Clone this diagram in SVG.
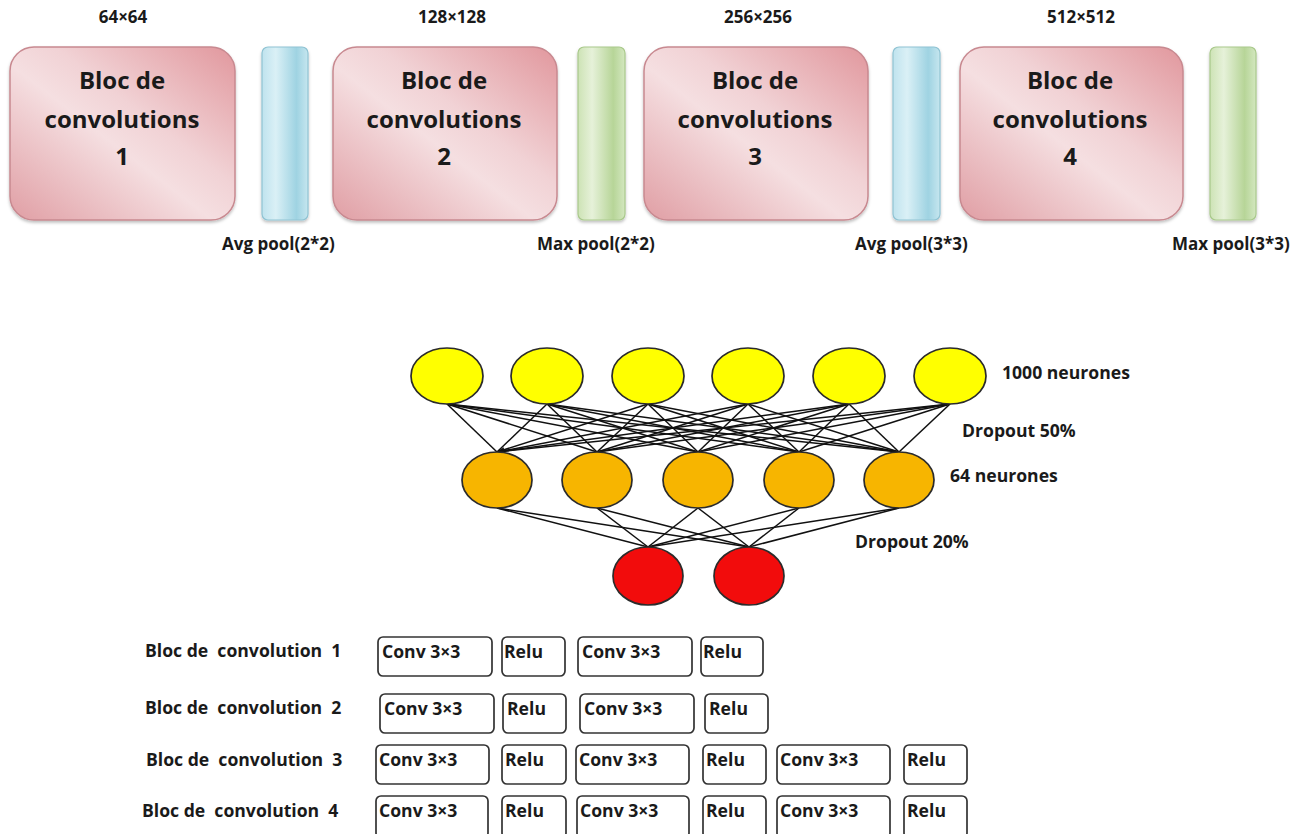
<svg xmlns="http://www.w3.org/2000/svg" width="1316" height="834" viewBox="0 0 1316 834">
  <defs>
    <style>
      .t { font-family: "Open Sans", "DejaVu Sans", sans-serif; font-weight: 700; fill: #1a1a1a; }
      .big { font-size: 24px; text-anchor: middle; }
      .sm { font-size: 17px; }
      .md { font-size: 17.6px; }
      .mid { text-anchor: middle; }
      .pre { white-space: pre; }
      .block { stroke: #c88990; stroke-width: 1.5; fill: url(#pink); }
      .poolA { stroke: #8fc3d3; stroke-width: 1.2; fill: url(#blue); }
      .poolM { stroke: #a9c98b; stroke-width: 1.2; fill: url(#green); }
      .yel { fill: #ffff00; stroke: #2b2b2b; stroke-width: 1.7; }
      .org { fill: #f7b500; stroke: #2b2b2b; stroke-width: 1.7; }
      .red { fill: #f20c0c; stroke: #2b2b2b; stroke-width: 1.7; }
      .op { fill: #ffffff; stroke: #333333; stroke-width: 1.7; }
      #links line { stroke: #111111; stroke-width: 1.5; }
    </style>
    <linearGradient id="pink" x1="0" y1="1" x2="1" y2="0">
      <stop offset="0" stop-color="#e09ea4"/>
      <stop offset="0.45" stop-color="#f5dfe1"/>
      <stop offset="0.6" stop-color="#f1d2d5"/>
      <stop offset="1" stop-color="#e1979d"/>
    </linearGradient>
    <linearGradient id="blue" x1="0" y1="0" x2="1" y2="0">
      <stop offset="0" stop-color="#bfe3ee"/>
      <stop offset="0.3" stop-color="#daf0f6"/>
      <stop offset="0.75" stop-color="#9fd3e2"/>
      <stop offset="1" stop-color="#c6e6ef"/>
    </linearGradient>
    <linearGradient id="green" x1="0" y1="0" x2="1" y2="0">
      <stop offset="0" stop-color="#cde3b5"/>
      <stop offset="0.3" stop-color="#e6f1d9"/>
      <stop offset="0.75" stop-color="#b7d598"/>
      <stop offset="1" stop-color="#d3e7bf"/>
    </linearGradient>
    <filter id="shadow" x="-10%" y="-10%" width="120%" height="125%">
      <feDropShadow dx="0" dy="2" stdDeviation="1.5" flood-color="#000000" flood-opacity="0.25"/>
    </filter>
    <marker id="arrow" viewBox="0 0 10 10" refX="9" refY="5" markerWidth="8" markerHeight="8" orient="auto" markerUnits="userSpaceOnUse">
      <path d="M0,0 L10,5 L0,10 z" fill="#111111"/>
    </marker>
  </defs>

  <rect width="1316" height="834" fill="#ffffff"/>

  <!-- feature sizes -->
  <text class="t sm mid" x="123" y="23">64×64</text>
  <text class="t sm mid" x="452" y="23">128×128</text>
  <text class="t sm mid" x="758" y="23">256×256</text>
  <text class="t sm mid" x="1081" y="23">512×512</text>

  <!-- convolution blocks -->
  <g id="bloc1">
    <rect class="block" x="10" y="47" width="225" height="173" rx="24" filter="url(#shadow)"/>
    <text class="t big" x="122" y="89">Bloc de</text>
    <text class="t big" x="122" y="128">convolutions</text>
    <text class="t big" x="122" y="165">1</text>
  </g>
  <g id="pool1">
    <rect class="poolA" x="262" y="47" width="46" height="173" rx="6" filter="url(#shadow)"/>
    <text class="t sm" x="222" y="250">Avg pool(2*2)</text>
  </g>
  <g id="bloc2">
    <rect class="block" x="333" y="47" width="224" height="173" rx="24" filter="url(#shadow)"/>
    <text class="t big" x="444" y="89">Bloc de</text>
    <text class="t big" x="444" y="128">convolutions</text>
    <text class="t big" x="444" y="165">2</text>
  </g>
  <g id="pool2">
    <rect class="poolM" x="578" y="47" width="47" height="173" rx="6" filter="url(#shadow)"/>
    <text class="t sm" x="537" y="250">Max pool(2*2)</text>
  </g>
  <g id="bloc3">
    <rect class="block" x="644" y="47" width="224" height="173" rx="24" filter="url(#shadow)"/>
    <text class="t big" x="755" y="89">Bloc de</text>
    <text class="t big" x="755" y="128">convolutions</text>
    <text class="t big" x="755" y="165">3</text>
  </g>
  <g id="pool3">
    <rect class="poolA" x="893" y="47" width="47" height="173" rx="6" filter="url(#shadow)"/>
    <text class="t sm" x="855" y="250">Avg pool(3*3)</text>
  </g>
  <g id="bloc4">
    <rect class="block" x="960" y="47" width="223" height="173" rx="24" filter="url(#shadow)"/>
    <text class="t big" x="1070" y="89">Bloc de</text>
    <text class="t big" x="1070" y="128">convolutions</text>
    <text class="t big" x="1070" y="165">4</text>
  </g>
  <g id="pool4">
    <rect class="poolM" x="1210" y="47" width="46" height="173" rx="6" filter="url(#shadow)"/>
    <text class="t sm" x="1172" y="250">Max pool(3*3)</text>
  </g>

  <!-- dense layers: connectors -->
  <g id="links">
    <!-- yellow layer to orange layer -->
    <line x1="447" y1="404" x2="497" y2="452"/><line x1="447" y1="404" x2="597" y2="452"/><line x1="447" y1="404" x2="698" y2="452"/><line x1="447" y1="404" x2="799" y2="452"/><line x1="447" y1="404" x2="899" y2="452"/>
    <line x1="547" y1="404" x2="497" y2="452"/><line x1="547" y1="404" x2="597" y2="452"/><line x1="547" y1="404" x2="698" y2="452"/><line x1="547" y1="404" x2="799" y2="452"/><line x1="547" y1="404" x2="899" y2="452"/>
    <line x1="648" y1="404" x2="497" y2="452"/><line x1="648" y1="404" x2="597" y2="452"/><line x1="648" y1="404" x2="698" y2="452"/><line x1="648" y1="404" x2="799" y2="452"/><line x1="648" y1="404" x2="899" y2="452"/>
    <line x1="748" y1="404" x2="497" y2="452"/><line x1="748" y1="404" x2="597" y2="452"/><line x1="748" y1="404" x2="698" y2="452"/><line x1="748" y1="404" x2="799" y2="452"/><line x1="748" y1="404" x2="899" y2="452"/>
    <line x1="849" y1="404" x2="497" y2="452"/><line x1="849" y1="404" x2="597" y2="452"/><line x1="849" y1="404" x2="698" y2="452"/><line x1="849" y1="404" x2="799" y2="452"/><line x1="849" y1="404" x2="899" y2="452"/>
    <line x1="950" y1="404" x2="497" y2="452" marker-end="url(#arrow)"/><line x1="950" y1="404" x2="597" y2="452"/><line x1="950" y1="404" x2="698" y2="452"/><line x1="950" y1="404" x2="799" y2="452"/><line x1="950" y1="404" x2="899" y2="452"/>
    <!-- orange layer to output layer -->
    <line x1="497" y1="508" x2="648" y2="547"/><line x1="497" y1="508" x2="749" y2="547"/>
    <line x1="597" y1="508" x2="648" y2="547"/><line x1="597" y1="508" x2="749" y2="547"/>
    <line x1="698" y1="508" x2="648" y2="547"/><line x1="698" y1="508" x2="749" y2="547"/>
    <line x1="799" y1="508" x2="648" y2="547"/><line x1="799" y1="508" x2="749" y2="547"/>
    <line x1="899" y1="508" x2="648" y2="547"/><line x1="899" y1="508" x2="749" y2="547"/>
  </g>

  <!-- dense layers: neurons -->
  <g id="dense1000">
    <ellipse class="yel" cx="447" cy="376" rx="36" ry="28"/>
    <ellipse class="yel" cx="547" cy="376" rx="36" ry="28"/>
    <ellipse class="yel" cx="648" cy="376" rx="36" ry="28"/>
    <ellipse class="yel" cx="748" cy="376" rx="36" ry="28"/>
    <ellipse class="yel" cx="849" cy="376" rx="36" ry="28"/>
    <ellipse class="yel" cx="950" cy="376" rx="36" ry="28"/>
    <text class="t md" x="1002" y="379">1000 neurones</text>
    <text class="t md" x="962" y="437">Dropout 50%</text>
  </g>
  <g id="dense64">
    <ellipse class="org" cx="497" cy="480" rx="35" ry="28"/>
    <ellipse class="org" cx="597" cy="480" rx="35" ry="28"/>
    <ellipse class="org" cx="698" cy="480" rx="35" ry="28"/>
    <ellipse class="org" cx="799" cy="480" rx="35" ry="28"/>
    <ellipse class="org" cx="899" cy="480" rx="35" ry="28"/>
    <text class="t md" x="950" y="482">64 neurones</text>
    <text class="t md" x="855" y="548">Dropout 20%</text>
  </g>
  <g id="output">
    <ellipse class="red" cx="648" cy="576" rx="35" ry="29"/>
    <ellipse class="red" cx="749" cy="576" rx="35" ry="29"/>
  </g>

  <!-- block composition table -->
  <g id="row1">
    <text class="t md pre" x="145" y="657">Bloc de  convolution  1</text>
    <rect class="op" x="378" y="637" width="114" height="39" rx="5"/><text class="t md" x="382" y="658">Conv 3×3</text>
    <rect class="op" x="502" y="637" width="63" height="39" rx="5"/><text class="t md" x="504" y="658">Relu</text>
    <rect class="op" x="578" y="637" width="114" height="39" rx="5"/><text class="t md" x="582" y="658">Conv 3×3</text>
    <rect class="op" x="701" y="637" width="62" height="39" rx="5"/><text class="t md" x="703" y="658">Relu</text>
  </g>
  <g id="row2">
    <text class="t md pre" x="145" y="714">Bloc de  convolution  2</text>
    <rect class="op" x="380" y="694" width="114" height="39" rx="5"/><text class="t md" x="384" y="715">Conv 3×3</text>
    <rect class="op" x="503" y="694" width="63" height="39" rx="5"/><text class="t md" x="507" y="715">Relu</text>
    <rect class="op" x="580" y="694" width="114" height="39" rx="5"/><text class="t md" x="584" y="715">Conv 3×3</text>
    <rect class="op" x="705" y="694" width="63" height="39" rx="5"/><text class="t md" x="709" y="715">Relu</text>
  </g>
  <g id="row3">
    <text class="t md pre" x="146" y="766">Bloc de  convolution  3</text>
    <rect class="op" x="376" y="745" width="113" height="39" rx="5"/><text class="t md" x="379" y="766">Conv 3×3</text>
    <rect class="op" x="502" y="745" width="64" height="39" rx="5"/><text class="t md" x="505" y="766">Relu</text>
    <rect class="op" x="576" y="745" width="113" height="39" rx="5"/><text class="t md" x="579" y="766">Conv 3×3</text>
    <rect class="op" x="703" y="745" width="63" height="39" rx="5"/><text class="t md" x="706" y="766">Relu</text>
    <rect class="op" x="777" y="745" width="113" height="39" rx="5"/><text class="t md" x="780" y="766">Conv 3×3</text>
    <rect class="op" x="904" y="745" width="63" height="39" rx="5"/><text class="t md" x="907" y="766">Relu</text>
  </g>
  <g id="row4">
    <text class="t md pre" x="142" y="817">Bloc de  convolution  4</text>
    <rect class="op" x="376" y="796" width="112" height="42" rx="5"/><text class="t md" x="379" y="817">Conv 3×3</text>
    <rect class="op" x="502" y="796" width="64" height="42" rx="5"/><text class="t md" x="505" y="817">Relu</text>
    <rect class="op" x="577" y="796" width="112" height="42" rx="5"/><text class="t md" x="580" y="817">Conv 3×3</text>
    <rect class="op" x="703" y="796" width="63" height="42" rx="5"/><text class="t md" x="706" y="817">Relu</text>
    <rect class="op" x="777" y="796" width="113" height="42" rx="5"/><text class="t md" x="780" y="817">Conv 3×3</text>
    <rect class="op" x="904" y="796" width="63" height="42" rx="5"/><text class="t md" x="907" y="817">Relu</text>
  </g>
</svg>
